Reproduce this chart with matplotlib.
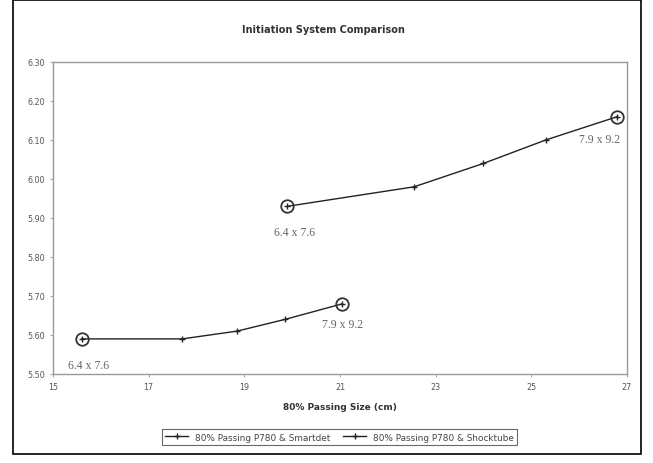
import matplotlib
matplotlib.use("Agg")
import matplotlib.pyplot as plt
from matplotlib.patches import Rectangle

# data
smartdet_x = [15.6, 17.7, 18.85, 19.85, 21.05]
smartdet_y = [5.59, 5.59, 5.61, 5.64, 5.68]
shocktube_x = [19.9, 22.55, 24.0, 25.3, 26.8]
shocktube_y = [5.93, 5.98, 6.04, 6.10, 6.16]
series_names = ["80% Passing P780 & Smartdet", "80% Passing P780 & Shocktube"]
pattern_labels = ["6.4 x 7.6", "7.9 x 9.2"]
x_ticks = [15, 17, 19, 21, 23, 25, 27]
y_ticks = [5.50, 5.60, 5.70, 5.80, 5.90, 6.00, 6.10, 6.20, 6.30]

fig = plt.figure(figsize=(6.53, 4.64), dpi=100)
fig.patch.set_facecolor("white")
# outer chart border
fig.add_artist(Rectangle((13 / 653, 0.02), 628 / 653, 0.977, transform=fig.transFigure,
                         fill=False, edgecolor="black", linewidth=1.2))

ax = fig.add_axes([53 / 653, 89 / 464, 574 / 653, 312 / 464])
for spine in ax.spines.values():
    spine.set_color("#999999")
    spine.set_linewidth(1.0)

line_kw = dict(color="#222222", linewidth=1.0, marker="+", markersize=4, markeredgewidth=1.0)
ax.plot(smartdet_x, smartdet_y, label=series_names[0], **line_kw)
ax.plot(shocktube_x, shocktube_y, label=series_names[1], **line_kw)

# circled end points with pattern labels
for xs, ys, dy_first, dy_last, dx_last in [(smartdet_x, smartdet_y, -26, -20, 0),
                                           (shocktube_x, shocktube_y, -26, -22, -18)]:
    ax.plot([xs[0], xs[-1]], [ys[0], ys[-1]], linestyle="none", marker="o", markersize=9,
            markerfacecolor="none", markeredgecolor="#333333", markeredgewidth=1.3)
    ax.annotate(pattern_labels[0], (xs[0], ys[0]), xytext=(7, dy_first), textcoords="offset pixels",
                ha="center", va="center", fontsize=8.5, family="Liberation Serif", color="#666666")
    ax.annotate(pattern_labels[1], (xs[-1], ys[-1]), xytext=(dx_last, dy_last), textcoords="offset pixels",
                ha="center", va="center", fontsize=8.5, family="Liberation Serif", color="#666666")

ax.set_xlim(15, 27)
ax.set_ylim(5.50, 6.30)
ax.set_xticks(x_ticks)
ax.set_yticks(y_ticks)
ax.set_yticklabels([f"{v:.2f}" for v in y_ticks])
ax.tick_params(axis="both", labelsize=5.8, labelcolor="#555555", color="#aaaaaa",
               length=2.5, direction="out")

ax.set_xlabel("80% Passing Size (cm)", fontsize=6.5, fontweight="bold", color="#333333", labelpad=8)
fig.text(0.495, 0.935, "Initiation System Comparison", ha="center", va="center",
         fontsize=7, fontweight="bold", color="#333333")

leg = fig.legend(loc="center", bbox_to_anchor=(0.52, 0.056), ncol=2, fontsize=6.4,
                 frameon=True, fancybox=False, edgecolor="#444444", handlelength=2.5,
                 columnspacing=1.5, borderpad=0.35)
leg.get_frame().set_linewidth(0.8)
for t in leg.get_texts():
    t.set_color("#444444")

fig.savefig("out.png", dpi=100)
